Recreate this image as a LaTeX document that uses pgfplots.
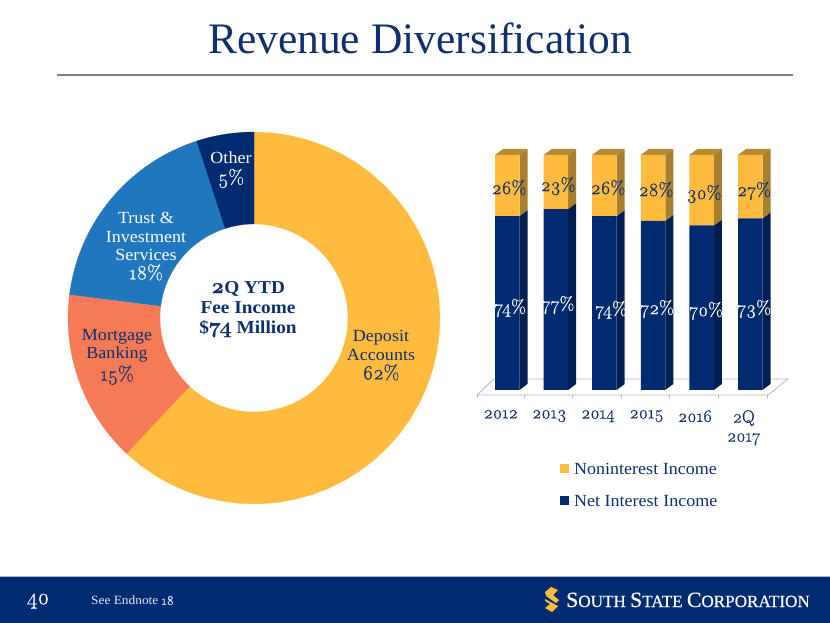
\documentclass[border=0pt]{standalone}
\usepackage{fontspec}
\usepackage{pgfplots}
\pgfplotsset{compat=1.18}
\setmainfont[FakeStretch=1.06]{Liberation Serif}
\newfontfamily\lmold[Numbers=OldStyle,Scale=1.18,FakeBold=0.6]{Latin Modern Roman}
\newfontfamily\titlefont{Liberation Serif}
\newfontfamily\logofont[FakeBold=0.5]{Liberation Serif}
\newcommand\N[1]{{\lmold #1}}
\definecolor{navy}{HTML}{002B70}
\definecolor{textnavy}{HTML}{0F2F6E}
\definecolor{gold}{HTML}{FFBB3D}
\definecolor{goldside}{HTML}{A87F2E}
\definecolor{goldtop}{HTML}{B48B33}
\definecolor{navyside}{HTML}{001E4F}
\definecolor{orangew}{HTML}{F57A55}
\definecolor{bluew}{HTML}{2077BD}
\definecolor{floorc}{HTML}{AEB6C8}
\newcommand\fs[1]{\fontsize{#1}{#1}\selectfont}
\newcommand\donutwedge[3]{%
  \gdef\pts{}%
  \foreach \i in {0,...,40}{\pgfmathsetmacro\a{90-3.6*(#1+#2*\i/40)}\xdef\pts{\pts(\a,186)}}%
  \foreach \i in {0,...,40}{\pgfmathsetmacro\a{90-3.6*(#1+#2*(40-\i)/40)}\xdef\pts{\pts(\a,94)}}%
  \edef\tmp{\noexpand\addplot[fill=#3,draw=#3,line width=0.2pt,data cs=polar] coordinates {\pts};}\tmp}
\newcommand\sideface[4]{%
  \pgfmathsetmacro\xa{#1+0.252}\pgfmathsetmacro\xb{#1+0.252+0.1646}%
  \pgfmathsetmacro\yl{#2+2.553}\pgfmathsetmacro\yh{#3+2.553}%
  \edef\tmp{\noexpand\addplot[fill=#4,draw=none] coordinates {(\xa,#2)(\xb,\yl)(\xb,\yh)(\xa,#3)};}\tmp}
\newcommand\topface[1]{%
  \pgfmathsetmacro\xa{#1-0.252}\pgfmathsetmacro\xb{#1+0.252}%
  \pgfmathsetmacro\xc{#1-0.252+0.1646}\pgfmathsetmacro\xd{#1+0.252+0.1646}%
  \edef\tmp{\noexpand\addplot[fill=goldtop,draw=none] coordinates {(\xa,100)(\xc,102.553)(\xd,102.553)(\xb,100)};}\tmp}
\pgfplotsset{pagepx/.style={at={(0pt,0pt)},anchor=south west,width=830pt,height=623pt,scale only axis,
   xmin=0,xmax=830,ymin=0,ymax=623,y dir=reverse,hide axis,clip=false},
  barsgeom/.style={at={(507.25pt,233pt)},anchor=south west,width=243pt,height=235pt,scale only axis,
   xmin=0,xmax=5,ymin=0,ymax=100,clip=false}}
\begin{document}
\begin{tikzpicture}[x=1pt,y=1pt]
\path[use as bounding box] (0pt,0pt) rectangle (830pt,623pt);
% page furniture
\begin{axis}[pagepx]
\fill[navy] (0,577) rectangle (830,623);
\draw[floorc,line width=0.8pt] (0,576.6) -- (830,576.6);
\draw[black!50,line width=2.4pt] (57,75) -- (793,75);
\node[text=textnavy,inner sep=0] at (420,38) {\titlefont\fs{43.5}Revenue Diversification};
\node[text=white,inner sep=0] at (38,601) {\N{\fs{19}40}};
\node[text=white!90!navy,inner sep=0,anchor=west] at (91,600.5) {\fs{12.6}See Endnote \N{\fs{11}18}};
\node[text=white,inner sep=0,anchor=base west] at (566,607) {\logofont\fs{21.8}S\fs{17.1}OUTH \fs{21.8}S\fs{17.1}TATE \fs{21.8}C\fs{17.1}ORPORATION};
\fill[gold] (551,587) -- (558,590) -- (553,595) -- (559,600) -- (556,603) -- (546,596) -- (545,592) -- cycle;
\fill[gold] (545,599) -- (558,606) -- (552,612) -- (545,608) -- (550,604) -- (545,601) -- cycle;
\end{axis}
% donut
\begin{axis}[at={(68pt,119pt)},anchor=south west,width=372pt,height=372pt,scale only axis,
  xmin=-186,xmax=186,ymin=-186,ymax=186,hide axis,clip=false]
\donutwedge{0}{62}{gold}
\donutwedge{62}{15}{orangew}
\donutwedge{77}{18}{bluew}
\donutwedge{95}{5}{navy}
\end{axis}
% floor, side and top faces
\begin{axis}[barsgeom,hide axis]
\addplot[fill=white,draw=floorc,line width=0.8pt] coordinates {(-0.622,-2.13)(-0.273,4.68)(5.776,4.68)(5.365,-2.13)(-0.622,-2.13)};
\addplot[floorc,line width=0.8pt] coordinates {(-0.622,-2.13)(-0.622,-3.6)};
\addplot[floorc,line width=0.8pt] coordinates {(0.345,-2.13)(0.345,-3.6)};
\addplot[floorc,line width=0.8pt] coordinates {(1.345,-2.13)(1.345,-3.6)};
\addplot[floorc,line width=0.8pt] coordinates {(2.345,-2.13)(2.345,-3.6)};
\addplot[floorc,line width=0.8pt] coordinates {(3.345,-2.13)(3.345,-3.6)};
\addplot[floorc,line width=0.8pt] coordinates {(4.345,-2.13)(4.345,-3.6)};
\addplot[floorc,line width=0.8pt] coordinates {(5.345,-2.13)(5.345,-3.6)};
\sideface{0}{0}{74}{navyside}\sideface{0}{74}{100}{goldside}\topface{0}
\sideface{1}{0}{77}{navyside}\sideface{1}{77}{100}{goldside}\topface{1}
\sideface{2}{0}{74}{navyside}\sideface{2}{74}{100}{goldside}\topface{2}
\sideface{3}{0}{72}{navyside}\sideface{3}{72}{100}{goldside}\topface{3}
\sideface{4}{0}{70}{navyside}\sideface{4}{70}{100}{goldside}\topface{4}
\sideface{5}{0}{73}{navyside}\sideface{5}{73}{100}{goldside}\topface{5}
\end{axis}
% bar fronts
\begin{axis}[barsgeom,ybar stacked,bar width=24.5pt,
  axis line style={draw=none},major tick length=0pt,ytick=\empty,
  xtick={0,1,2,3,4,5},xticklabels={2012,2013,2014,2015,2016,{2Q\\[4pt]2017}},
  x tick label style={align=center,text=textnavy,font=\lmold\fs{15},xshift=-6.5pt,yshift=-20pt,inner sep=0pt},
  legend image code/.code={\fill[#1] (0pt,-4pt) rectangle (9pt,5pt);\path (0pt,0pt) -- (14pt,0pt);},
  legend style={at={(0.217,-0.312)},anchor=north west,draw=none,fill=none,inner sep=0pt,
    font=\fs{17},text=textnavy,row sep=21pt,nodes={inner sep=0pt,text depth=0pt}},
  legend cell align=left,reverse legend]
\addplot[fill=navy,draw=none] coordinates {(0,74)(1,77)(2,74)(3,72)(4,70)(5,73)};
\addlegendentry{Net Interest Income}
\addplot[fill=gold,draw=none] coordinates {(0,26)(1,23)(2,26)(3,28)(4,30)(5,27)};
\addlegendentry{Noninterest Income}
\end{axis}
% labels
\begin{axis}[pagepx]
\tikzset{lab/.style={inner sep=0,align=center,font=\fs{17},text depth=0pt}}
\foreach \x/\y/\t in {510/306/74,558/303/77,611/308/74,657/307/72,706/309/70,754/307/73}{
  \edef\tmp{\noexpand\node[lab,text=white] at (axis cs:\x,\y) {\noexpand\N{\noexpand\fs{16}\t\noexpand\%}};}\tmp}
\foreach \x/\y/\t in {509/187/26,558/184/23,608/187/26,656/189/28,704/192/30,754/189/27}{
  \edef\tmp{\noexpand\node[lab,text=textnavy] at (axis cs:\x,\y) {\noexpand\N{\noexpand\fs{16}\t\noexpand\%}};}\tmp}
\node[lab,text=textnavy,font=\fs{18.2}\bfseries] at (248,307) {\N{2}Q YTD\\[1.8pt]Fee Income\\[1.8pt]\$\N{74} Million};
\node[lab,text=textnavy] at (381,355) {Deposit\\[1.5pt]Accounts\\[2pt]\N{62\%}};
\node[lab,text=textnavy] at (117,355) {Mortgage\\[1.5pt]Banking\\[2pt]\N{15\%}};
\node[lab,text=white] at (146,246) {Trust \&\\[1.5pt]Investment\\[1.5pt]Services\\[1.5pt]\N{18\%}};
\node[lab,text=white] at (231,168) {Other\\[3pt]\N{5\%}};
\end{axis}
\end{tikzpicture}
\end{document}
